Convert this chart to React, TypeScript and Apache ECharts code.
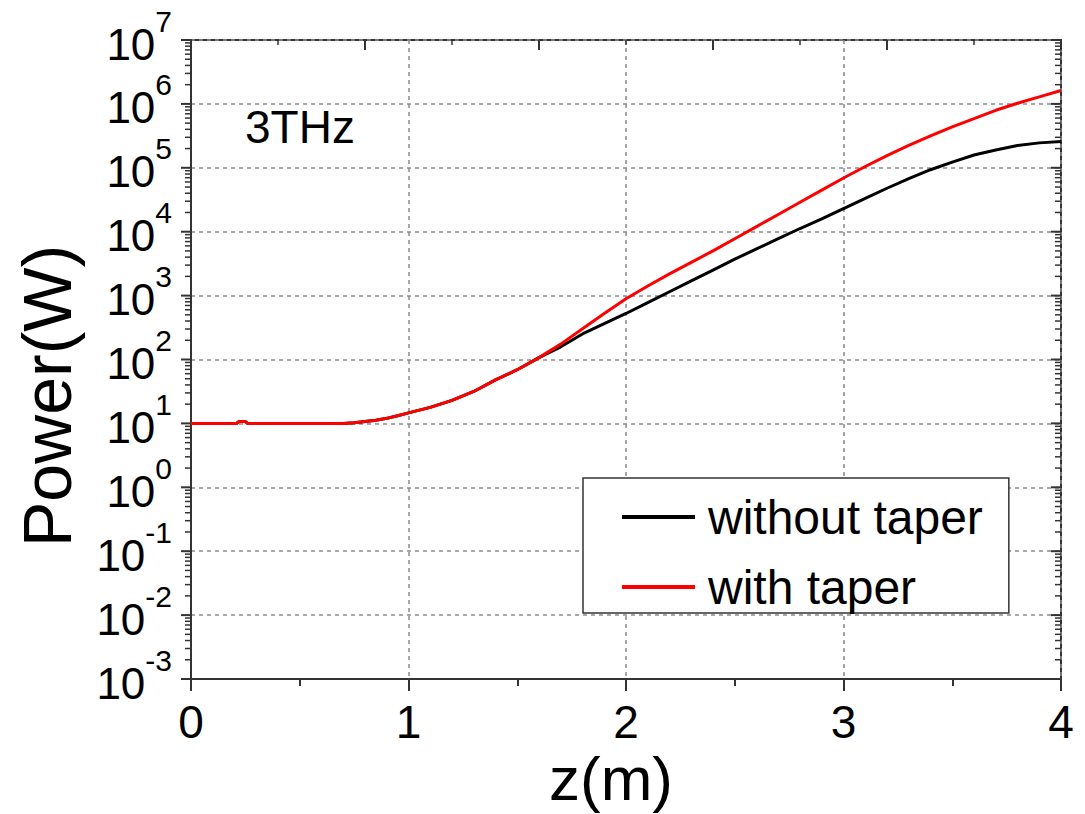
import React, { useEffect, useRef } from 'react';
import * as echarts from 'echarts';

// z (m) sample positions, shared by both curves
const zValues = [
  0, 0.1, 0.2, 0.21, 0.22, 0.25, 0.26, 0.3, 0.4, 0.5, 0.6, 0.7, 0.75, 0.8, 0.85, 0.9, 0.95,
  1.0, 1.1, 1.2, 1.3, 1.4, 1.5, 1.6, 1.7, 1.8, 1.9, 2.0, 2.1, 2.2, 2.3, 2.4, 2.5, 2.6, 2.7,
  2.8, 2.9, 3.0, 3.1, 3.2, 3.3, 3.4, 3.5, 3.6, 3.7, 3.8, 3.9, 4.0,
];

// Power (W) without taper
const powerWithoutTaper = [
  10, 10, 10, 10, 10.7, 10.7, 10, 10, 10, 10, 10, 10, 10.2, 10.7, 11.2, 12.0, 13.2,
  14.6, 17.8, 22.9, 31.6, 47.9, 69.2, 107, 158, 251, 363, 525, 776, 1148, 1698, 2512, 3715,
  5370, 7762, 11220, 15850, 22910, 33110, 47860, 67610, 93330, 123000, 158500, 190500,
  223900, 245500, 257000,
];

// Power (W) with taper
const powerWithTaper = [
  10, 10, 10, 10, 10.7, 10.7, 10, 10, 10, 10, 10, 10, 10.2, 10.7, 11.2, 12.0, 13.2,
  14.6, 17.8, 22.9, 31.6, 47.9, 69.2, 107, 174, 302, 525, 891, 1413, 2188, 3311, 5012, 7762,
  12020, 18620, 28840, 44670, 69180, 104700, 154900, 223900, 316200, 436500, 588800, 794300,
  1023000, 1288000, 1622000,
];

const seriesNames = ['without taper', 'with taper'];
const seriesColors = ['#000000', '#ff0000'];
const xMin = 0;
const xMax = 4;
const topAxisMax = 5; // top frame axis has 5 major divisions
const yTickExponents = [-3, -2, -1, 0, 1, 2, 3, 4, 5, 6, 7];
const annotation = '3THz';
const xTitle = 'z(m)';
const yTitle = 'Power(W)';

const FONT = '"Liberation Sans", Arial, Helvetica, sans-serif';
const AXIS = '#333333';
const GRID = '#8a8a8a';

export default function App() {
  const ref = useRef<HTMLDivElement>(null);

  useEffect(() => {
    if (!ref.current) return;
    const chart = echarts.init(ref.current, undefined, { renderer: 'svg' });

    const yMinExp = yTickExponents[0];
    const yMaxExp = yTickExponents[yTickExponents.length - 1];
    const yMax = Math.pow(10, yMaxExp);
    const yMin = Math.pow(10, yMinExp);

    // frame decorations: [kind, value]
    // kind 0 = y major tick + label (decade), 1 = y minor tick, 2 = top major tick, 3 = top minor tick
    const frameItems: number[][] = [];
    yTickExponents.forEach((e) => {
      frameItems.push([0, Math.pow(10, e)]);
      if (e < yMaxExp) for (let k = 2; k <= 9; k++) frameItems.push([1, k * Math.pow(10, e)]);
    });
    for (let t = 0; t <= topAxisMax * 2; t++) {
      frameItems.push([t % 2 === 0 ? 2 : 3, (t / 2) * (xMax / topAxisMax)]);
    }

    const option: any = {
      animation: false,
      backgroundColor: '#ffffff',
      textStyle: { fontFamily: FONT },
      grid: {
        left: 191, top: 40, right: 24, bottom: 135, containLabel: false,
        show: true, borderColor: AXIS, borderWidth: 2, backgroundColor: 'transparent',
      },
      legend: {
        data: seriesNames,
        orient: 'vertical',
        left: 583,
        top: 478,
        padding: [15, 26, 2, 39],
        itemGap: 22,
        itemWidth: 73,
        itemHeight: 4,
        icon: 'rect',
        selectedMode: false,
        borderColor: AXIS,
        borderWidth: 1.5,
        backgroundColor: '#ffffff',
        textStyle: { fontSize: 48, lineHeight: 40, color: '#000', fontFamily: FONT, padding: [0, 0, 0, 8] },
      },
      xAxis: {
        type: 'value',
        min: xMin,
        max: xMax,
        interval: 1,
        position: 'bottom',
        axisLine: { show: true, onZero: false, lineStyle: { color: AXIS, width: 2 } },
        axisTick: { show: true, inside: false, length: 12, lineStyle: { color: AXIS, width: 2 } },
        minorTick: { show: true, splitNumber: 2, length: 7, lineStyle: { color: AXIS, width: 2 } },
        axisLabel: { show: true, margin: 23, fontSize: 46, lineHeight: 40, color: '#000', fontFamily: FONT },
        splitLine: { show: true, lineStyle: { color: GRID, width: 1.5, type: [4, 4] } },
      },
      yAxis: {
        type: 'log',
        logBase: 10,
        min: yMin,
        max: yMax,
        interval: 1,
        splitNumber: 10,
        position: 'left',
        axisLine: { show: true, onZero: false, lineStyle: { color: AXIS, width: 2 } },
        axisTick: { show: false },
        axisLabel: { show: false },
        splitLine: { show: true, lineStyle: { color: GRID, width: 1.5, type: [4, 4] } },
      },
      graphic: [
        {
          type: 'text',
          x: 245,
          y: 127,
          style: { text: annotation, fontSize: 46, fill: '#000', fontFamily: FONT, textAlign: 'left', textVerticalAlign: 'middle' },
        },
        {
          type: 'text',
          x: 47,
          y: 396,
          rotation: Math.PI / 2,
          style: { text: yTitle, fontSize: 68, fill: '#000', fontFamily: FONT, textAlign: 'center', textVerticalAlign: 'middle' },
        },
        {
          type: 'text',
          x: 611,
          y: 778,
          style: { text: xTitle, fontSize: 62, lineHeight: 52, fill: '#000', fontFamily: FONT, textAlign: 'center', textVerticalAlign: 'middle' },
        },
      ],
      series: [
        {
          type: 'custom',
          name: 'frame ticks',
          silent: true,
          clip: false,
          z: 6,
          data: frameItems,
          renderItem: (_params: any, api: any) => {
            const kind = api.value(0);
            const v = api.value(1);
            const st = { stroke: AXIS, lineWidth: kind === 1 || kind === 3 ? 1.5 : 2 };
            if (kind <= 1) {
              const len = kind === 0 ? 10 : 6;
              const l = api.coord([xMin, v]);
              const r = api.coord([xMax, v]);
              const children: any[] = [
                { type: 'line', shape: { x1: l[0] - len, y1: l[1], x2: l[0], y2: l[1] }, style: st },
                { type: 'line', shape: { x1: r[0] - len, y1: r[1], x2: r[0], y2: r[1] }, style: st },
              ];
              if (kind === 0) {
                children.push({
                  type: 'text',
                  x: l[0] - 19,
                  y: l[1],
                  style: {
                    text: `{b|10}{s|${Math.round(Math.log10(v))}}`,
                    align: 'right',
                    verticalAlign: 'middle',
                    fill: '#000',
                    fontSize: 44,
                    fontFamily: FONT,
                    rich: {
                      b: { fontSize: 44, lineHeight: 24, padding: [8, 0, 0, 0], fill: '#000', color: '#000', fontFamily: FONT },
                      s: { fontSize: 30, lineHeight: 2, padding: [0, 0, 38, 0], fill: '#000', color: '#000', fontFamily: FONT },
                    },
                  },
                });
              }
              return { type: 'group', children };
            }
            const len = kind === 2 ? 10 : 5;
            const p = api.coord([v, yMax]);
            return { type: 'line', shape: { x1: p[0], y1: p[1], x2: p[0], y2: p[1] + len }, style: st };
          },
        },
        {
          type: 'line',
          name: seriesNames[0],
          data: zValues.map((z, i) => [z, powerWithoutTaper[i]]),
          showSymbol: false,
          symbol: 'none',
          smooth: false,
          color: seriesColors[0],
          lineStyle: { color: seriesColors[0], width: 3 },
          z: 3,
        },
        {
          type: 'line',
          name: seriesNames[1],
          data: zValues.map((z, i) => [z, powerWithTaper[i]]),
          showSymbol: false,
          symbol: 'none',
          smooth: false,
          color: seriesColors[1],
          lineStyle: { color: seriesColors[1], width: 3 },
          z: 4,
        },
      ],
    };

    chart.setOption(option);
    return () => chart.dispose();
  }, []);

  return (
    <div
      ref={ref}
      style={{ position: 'absolute', left: 0, top: 0, width: 1085, height: 814, background: '#fff' }}
    />
  );
}
